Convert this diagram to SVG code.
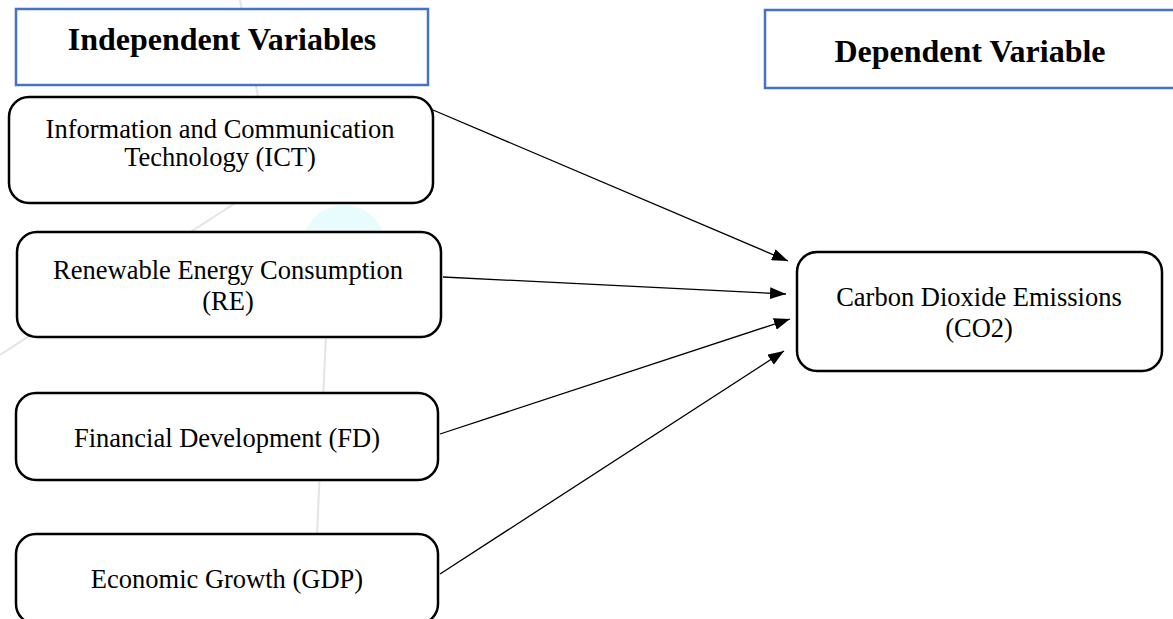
<svg xmlns="http://www.w3.org/2000/svg" width="1173" height="619" viewBox="0 0 1173 619">
  <defs>
    <style>
      .hdr { fill: #ffffff; stroke: #4472C4; stroke-width: 2.5; }
      .node { fill: #ffffff; stroke: #000000; stroke-width: 2.5; }
      .ht { font-family: "Liberation Serif", "Times New Roman", serif; font-weight: bold; font-size: 32px; fill: #000; text-anchor: middle; }
      .nt { font-family: "Liberation Serif", "Times New Roman", serif; font-size: 26.5px; fill: #000; text-anchor: middle; }
      .edge { stroke: #000; stroke-width: 1.3; fill: none; marker-end: url(#arrow); }
      .wm { stroke: #e4e4e4; stroke-width: 2; fill: none; }
    </style>
    <marker id="arrow" viewBox="0 0 16 12" refX="16" refY="6" markerWidth="16" markerHeight="12" markerUnits="userSpaceOnUse" orient="auto">
      <path d="M0,0 L16,6 L0,12 z" fill="#000"/>
    </marker>
  </defs>
  <rect width="1173" height="619" fill="#ffffff"/>

  <g id="watermark">
    <circle cx="344" cy="246" r="41" fill="#e8fbfd"/>
    <line class="wm" x1="0" y1="355" x2="240" y2="200"/>
    <line class="wm" x1="240" y1="0" x2="258" y2="97"/>
    <line class="wm" x1="326" y1="335" x2="317" y2="535"/>
  </g>

  <g id="hdr-independent">
    <rect class="hdr" x="16" y="9" width="412" height="76"/>
    <text class="ht" x="222" y="50">Independent Variables</text>
  </g>
  <g id="hdr-dependent">
    <rect class="hdr" x="765" y="10" width="430" height="78"/>
    <text class="ht" x="970" y="62">Dependent Variable</text>
  </g>

  <g id="node-ict">
    <rect class="node" x="9" y="97" width="424" height="106" rx="20" ry="20"/>
    <text class="nt" x="220" y="138">Information and Communication</text>
    <text class="nt" x="220" y="166">Technology (ICT)</text>
  </g>
  <g id="node-re">
    <rect class="node" x="17" y="232" width="424" height="105" rx="20" ry="20"/>
    <text class="nt" x="228" y="279">Renewable Energy Consumption</text>
    <text class="nt" x="228" y="310">(RE)</text>
  </g>
  <g id="node-fd">
    <rect class="node" x="16" y="393" width="422" height="87" rx="20" ry="20"/>
    <text class="nt" x="227" y="447">Financial Development (FD)</text>
  </g>
  <g id="node-gdp">
    <rect class="node" x="16" y="534" width="422" height="90" rx="20" ry="20"/>
    <text class="nt" x="227" y="588">Economic Growth (GDP)</text>
  </g>
  <g id="node-co2">
    <rect class="node" x="797" y="252" width="365" height="119" rx="20" ry="20"/>
    <text class="nt" x="979" y="306">Carbon Dioxide Emissions</text>
    <text class="nt" x="979" y="337">(CO2)</text>
  </g>

  <g id="connectors">
    <line class="edge" x1="433" y1="110" x2="788" y2="261"/>
    <line class="edge" x1="443" y1="277" x2="786" y2="294"/>
    <line class="edge" x1="440" y1="434" x2="790" y2="319"/>
    <line class="edge" x1="440" y1="574" x2="784" y2="351"/>
  </g>
</svg>
